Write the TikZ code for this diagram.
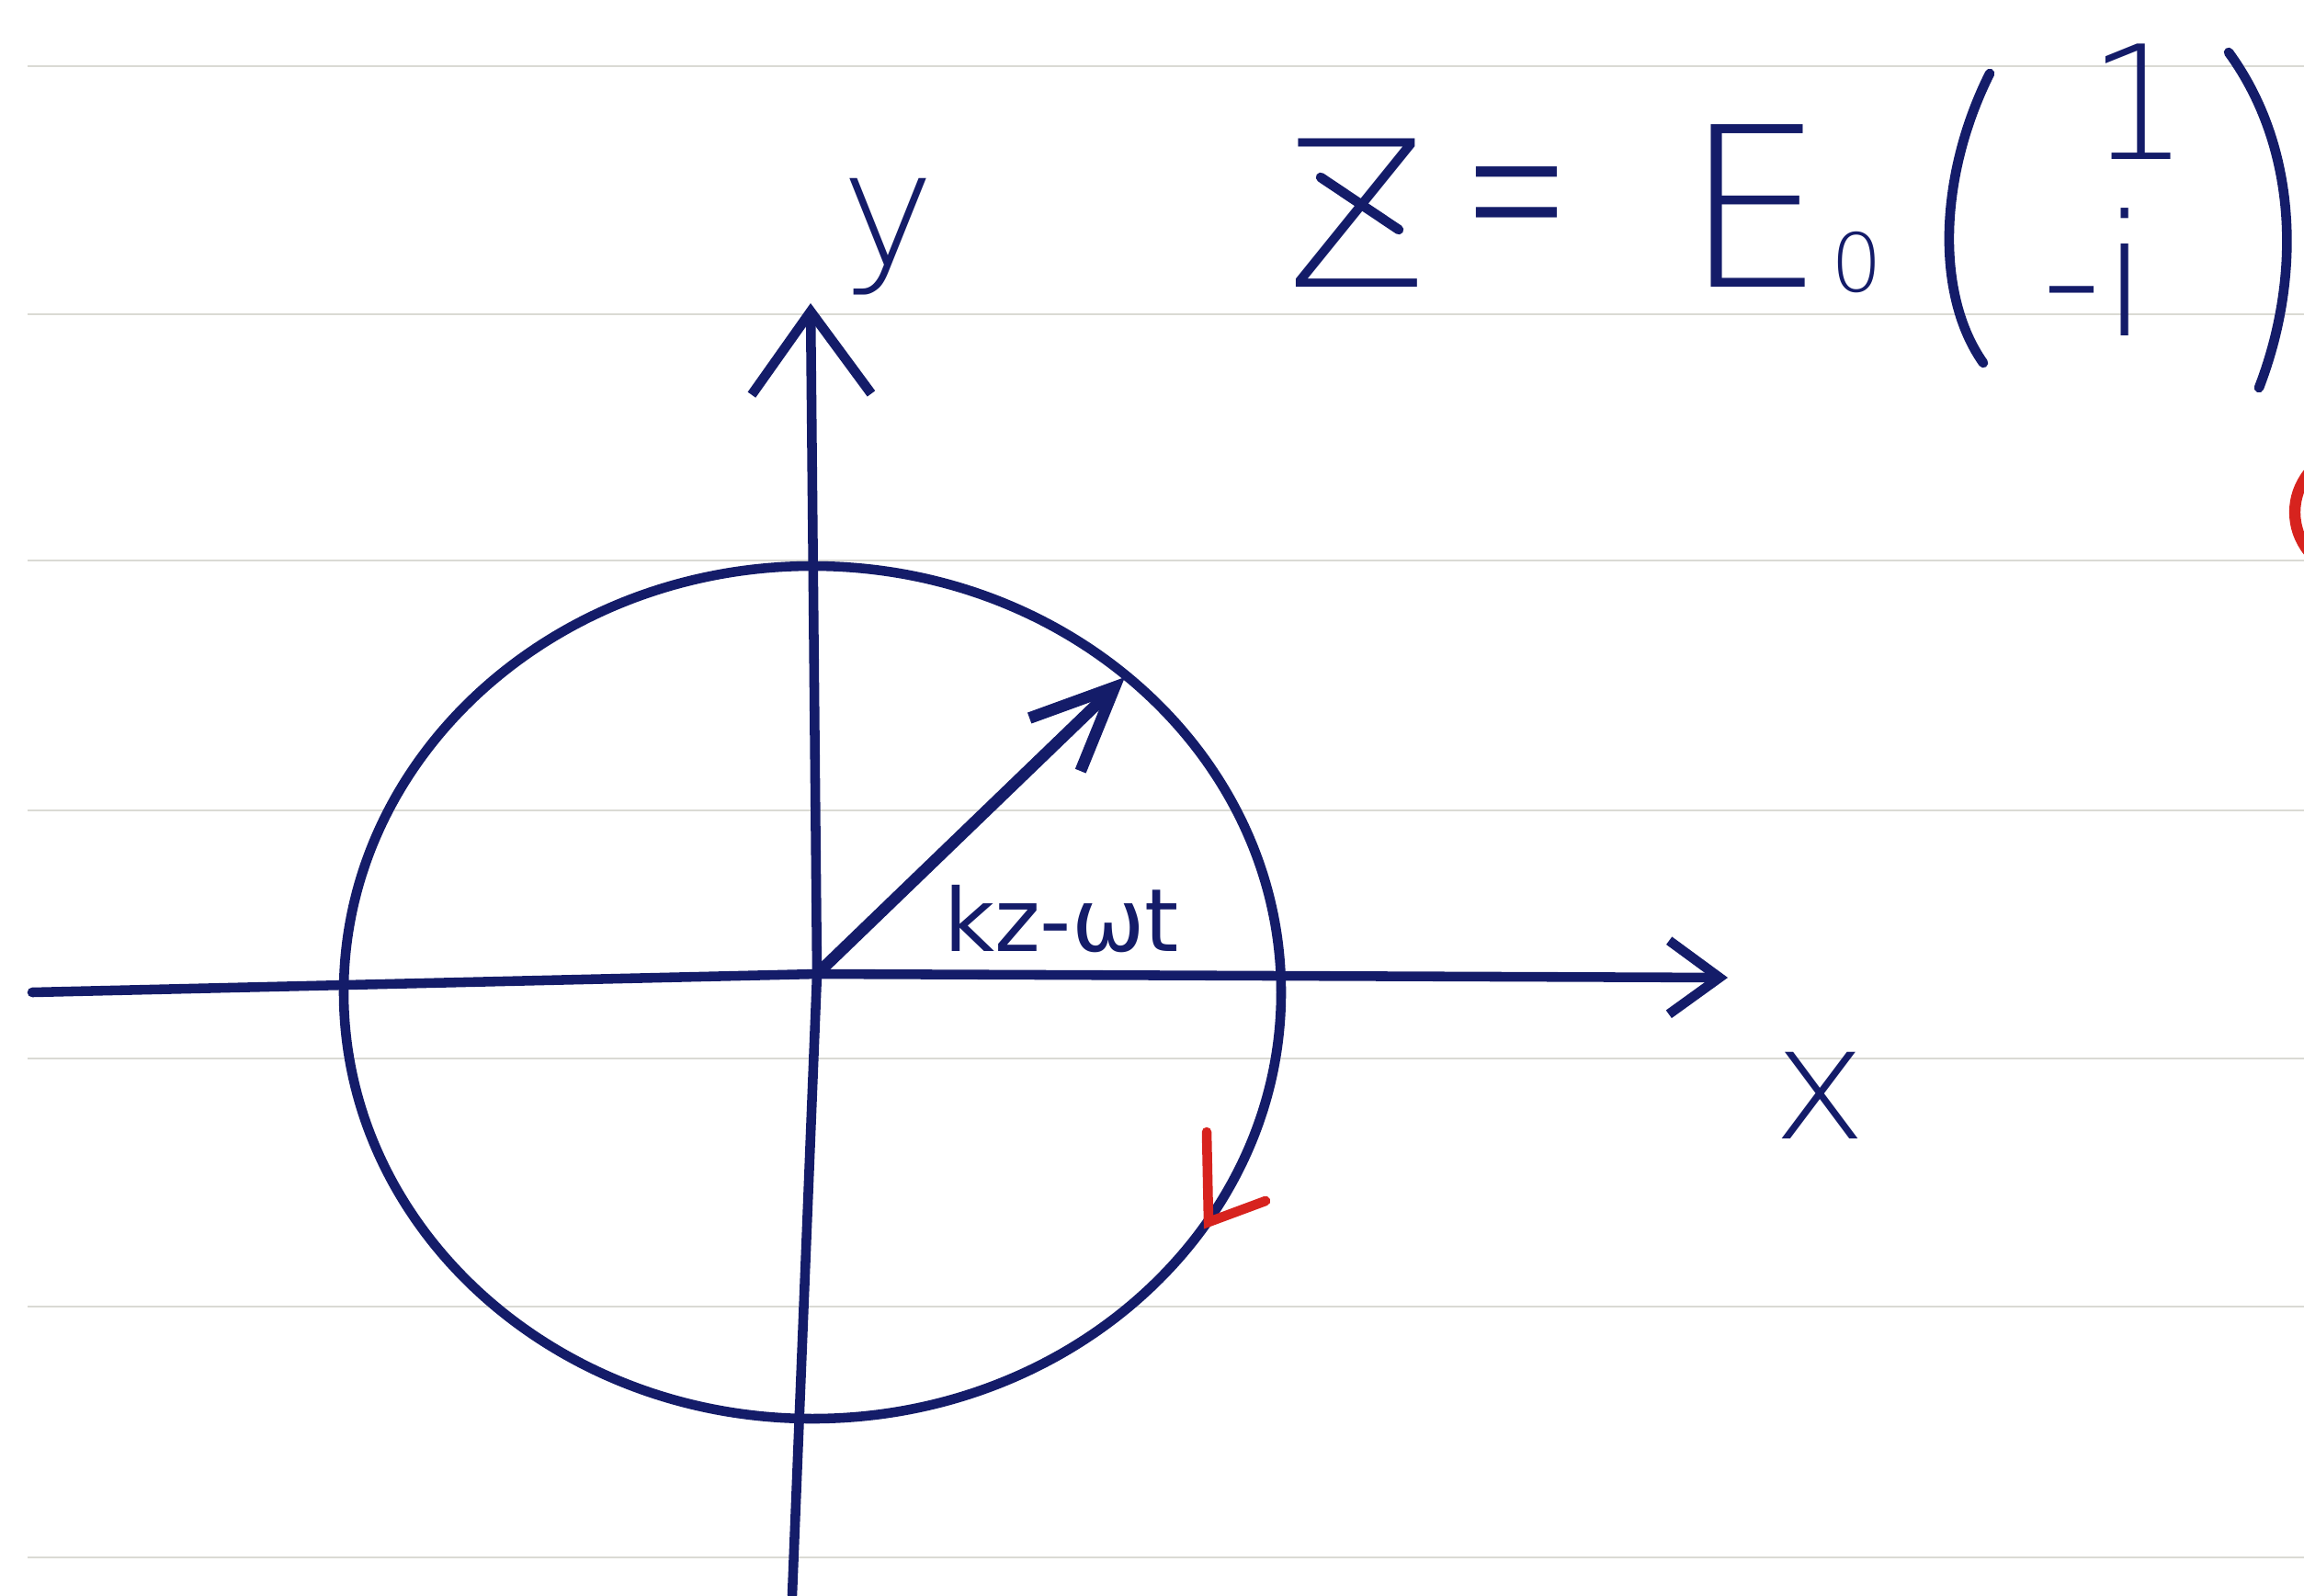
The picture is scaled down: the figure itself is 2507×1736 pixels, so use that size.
\documentclass[tikz,border=0pt]{standalone}
\usepackage{fontspec}
\IfFontExistsTF{DejaVu Sans ExtraLight}{\setmainfont{DejaVu Sans ExtraLight}}{\setmainfont{DejaVu Sans}}
\newfontfamily\bookfont{DejaVu Sans}
\usetikzlibrary{arrows.meta}
\definecolor{ink}{RGB}{20,28,105}
\definecolor{redink}{RGB}{215,35,30}
\definecolor{ruling}{RGB}{218,218,212}
\tikzset{
  pen/.style={draw=ink, line width=3pt, line cap=round, line join=round},
  hand/.style={text=ink, inner sep=0pt},
}
\newcommand{\fsz}[1]{\fontsize{#1}{#1}\selectfont}

\begin{document}
\begin{tikzpicture}[x=0.01cm, y=-0.01cm]
  \useasboundingbox (0,0) rectangle (2507,1736);
  \fill[white] (0,0) rectangle (2507,1736);

  % ruled paper
  \foreach \ry in {72,342,610,882,1152,1422,1695}
    \draw[ruling, line width=0.8pt] (30,\ry) -- (2507,\ry);

  % axes
  \coordinate (O) at (889,1060);
  \coordinate (xs) at (35,1080);
  \coordinate (xe) at (1880,1064);
  \coordinate (ys) at (862,1736);
  \coordinate (ye) at (882,330);
  \draw[pen, -{Straight Barb[length=5.5mm,width=8mm]}] (xs) -- (O) -- (xe);
  \draw[pen, -{Straight Barb[length=9mm,width=13mm]}] (ys) -- (O) -- (ye);

  % the circle
  \draw[pen] (884,1080) ellipse [x radius=510, y radius=464];

  % rotating field vector
  \coordinate (tip) at (1224,737);
  \draw[pen, line width=3.6pt, -{Straight Barb[length=9mm,width=8mm]}] (O) -- (tip);
  \node[hand, font=\bookfont\fsz{27}] (phase) at (1155,1000) {kz-ωt};

  % red sense of rotation
  \coordinate (rtip) at (1315,1330);
  \draw[redink, line width=3pt, line cap=round] (1313,1232) -- (rtip) -- (1377,1307);
  \draw[redink, line width=3.5pt] (2512,515) .. controls (2492,540) and (2492,575) .. (2512,600);

  % axis labels
  \node[hand, font=\fsz{49}] (xlab) at (1980,1192) {x};
  \node[hand, font=\fsz{49}] (ylab) at (966,258) {y};

  % polarisation vector
  \node[hand, font=\fsz{63}, anchor=base] (zz) at (1476,312) {Z};
  \draw[pen] (1437,193) -- (1522,250);
  \node[hand, font=\fsz{40}, yscale=2, transform shape] (eq) at (1650,240) {=};
  \node[hand, font=\fsz{69}, anchor=base] (ee) at (1909,312) {E};
  \node[hand, font=\fsz{25}, anchor=base] (sub) at (2020,317) {0};
  \draw[pen] (2165,80) .. controls (2110,190) and (2105,320) .. (2158,395);
  \node[hand, font=\fsz{49}, anchor=base] (one) at (2327,173) {1};
  \node[hand, font=\fsz{52}, anchor=base] (mi) at (2280,365) {-i};
  \draw[pen] (2425,57) .. controls (2500,160) and (2505,300) .. (2458,422);
\end{tikzpicture}
\end{document}
